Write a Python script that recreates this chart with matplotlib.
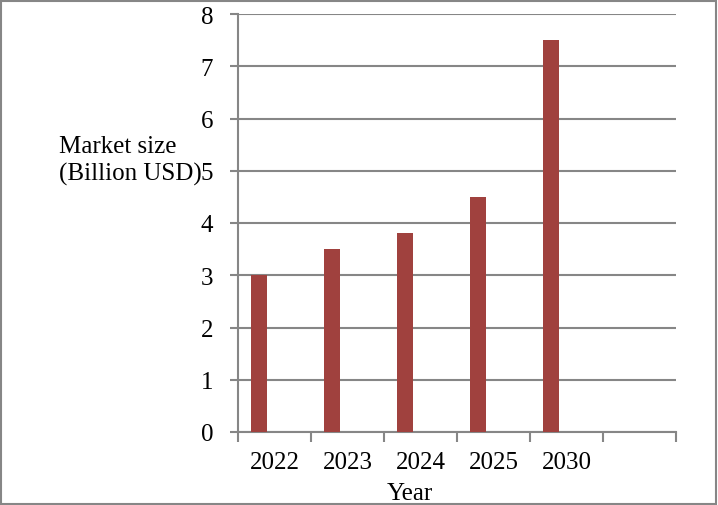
import numpy as np
import matplotlib.pyplot as plt
from matplotlib.patches import Rectangle

years = ['2022', '2023', '2024', '2025', '2030', '']
market_size = [3.0, 3.5, 3.8, 4.5, 7.5]

bar_color = '#A0413E'
grid_gray = '#868686'

plt.rcParams['font.family'] = ['Liberation Serif', 'DejaVu Serif']
plt.rcParams['font.size'] = 18

W, H = 718, 506
fig = plt.figure(figsize=(W / 100, H / 100), dpi=100)
ax = fig.add_axes([238 / W, (H - 433) / H, (676 - 238) / W, (433 - 15) / H])

x = np.arange(len(market_size))
# bars sit in the left part of each slot (second, empty series beside them)
ax.bar(x - 0.212, market_size, width=0.22, color=bar_color, zorder=3)

ax.set_xlim(-0.5, len(years) - 0.5)
ax.set_ylim(0, 8)
ax.set_yticks(range(0, 9))
ax.yaxis.grid(True, color=grid_gray, linewidth=1.5, zorder=0)

ax.set_xticks(np.arange(len(years)))
ax.set_xticklabels(years)
ax.set_xticks(np.arange(len(years) + 1) - 0.5, minor=True)
ax.tick_params(axis='x', which='major', length=0, pad=14)
ax.tick_params(axis='x', which='minor', length=7, width=1.5, color=grid_gray)
ax.tick_params(axis='y', length=6, width=1.5, color=grid_gray, pad=12)

for side in ['top', 'right']:
    ax.spines[side].set_visible(False)
for side in ['left', 'bottom']:
    ax.spines[side].set_color(grid_gray)
    ax.spines[side].set_linewidth(1.5)

fig.text(59 / W, 1 - 161 / H, 'Market size\n(Billion USD)', ha='left', va='center',
         linespacing=1.3)
fig.text(410 / W, 1 - 494 / H, 'Year', ha='center', va='center')

fig.patches.append(Rectangle((0.001, 0.002), 0.996, 0.995, transform=fig.transFigure,
                             fill=False, edgecolor=grid_gray, linewidth=1.5))

fig.savefig('out.png', dpi=100)
